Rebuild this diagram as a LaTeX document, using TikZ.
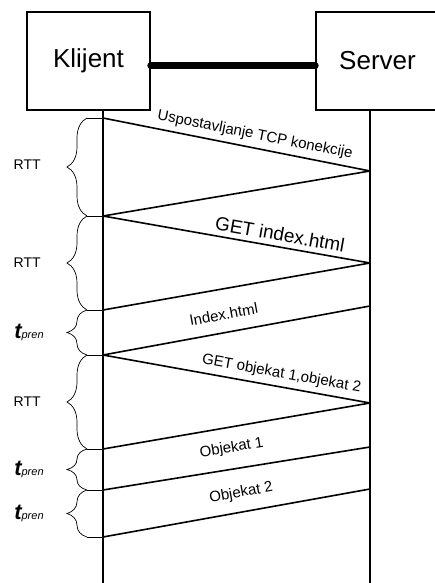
\documentclass[tikz,border=0pt]{standalone}
\usepackage{fontspec}
\setmainfont{Liberation Sans}
\usetikzlibrary{decorations.pathreplacing}

\tikzset{
  stranka/.style={draw, line width=1.6pt, minimum width=123pt, minimum height=98pt, inner sep=0pt, font=\fontsize{26}{30}\selectfont},
  zivot/.style={line width=1.6pt},
  poruka/.style={line width=1.6pt},
  zagrada/.style={decorate, decoration={brace, amplitude=20pt}, line width=0.7pt},
  opis/.style={font=\fontsize{15}{18}\selectfont, sloped, inner sep=1pt},
  rtt/.style={left=46pt, inner sep=0pt, font=\fontsize{14}{16}\selectfont},
  tpr/.style={left=43pt, inner sep=0pt},
}
\newcommand{\tpren}{{\fontsize{22}{24}\selectfont\bfseries\itshape t}{\fontsize{11}{12}\selectfont\itshape pren}}

\begin{document}
\begin{tikzpicture}[x=1pt, y=-1pt]
    \useasboundingbox (0,0) rectangle (435,583);
    \node[stranka] (klijent) at (88.5,61) {Klijent};
    \node[stranka] (server) at (377.5,61) {Server};
    \draw[line width=7pt, line cap=round] ([yshift=-5pt]klijent.east) -- ([yshift=-5pt]server.west);

    \coordinate (kv) at (103,110);
    \coordinate (kd) at (103,583);
    \coordinate (sv) at (370,110);
    \coordinate (sd) at (370,583);

    \coordinate (k0) at (103,118);
    \coordinate (k1) at (103,216);
    \coordinate (k2) at (103,310);
    \coordinate (k3) at (103,355);
    \coordinate (k4) at (103,449);
    \coordinate (k5) at (103,490);
    \coordinate (k6) at (103,537);
    \coordinate (s0) at (370,171);
    \coordinate (s1) at (370,263);
    \coordinate (s2) at (370,306);
    \coordinate (s3) at (370,403);
    \coordinate (s4) at (370,447);
    \coordinate (s5) at (370,489);

    \draw[zagrada] ([xshift=-16pt]k1) -- ([xshift=-16pt]k0) node[midway, rtt, yshift=2pt] {RTT};
    \draw[zagrada] ([xshift=-16pt]k2) -- ([xshift=-16pt]k1) node[midway, rtt] {RTT};
    \draw[zagrada] ([xshift=-16pt]k3) -- ([xshift=-16pt]k2) node[midway, tpr] {\tpren};
    \draw[zagrada] ([xshift=-16pt]k4) -- ([xshift=-16pt]k3) node[midway, rtt] {RTT};
    \draw[zagrada] ([xshift=-16pt]k5) -- ([xshift=-16pt]k4) node[midway, tpr] {\tpren};
    \draw[zagrada] ([xshift=-16pt]k6) -- ([xshift=-16pt]k5) node[midway, tpr] {\tpren};
    \foreach \k in {k0,k1,k2,k3,k4,k5,k6}
        \draw[line width=0.7pt] (\k) -- ([xshift=-16pt]\k);

    \draw[zivot] (kv) -- (kd);
    \draw[zivot] (sv) -- (sd);

    \draw[poruka] (k0) -- (s0) node[opis, pos=0.56, above=4pt] {Uspostavljanje TCP konekcije};
    \draw[poruka] (s0) -- (k1);
    \draw[poruka] (k1) -- (s1) node[opis, pos=0.655, above=4pt, font=\fontsize{19}{22}\selectfont] {GET index.html};
    \draw[poruka] (s1) -- (k2);
    \draw[poruka] (s2) -- (k3) node[opis, pos=0.536, above=11pt] {Index.html};
    \draw[poruka] (k3) -- (s3) node[opis, pos=0.66, above=4pt] {GET objekat 1,objekat 2};
    \draw[poruka] (s3) -- (k4);
    \draw[poruka] (s4) -- (k5) node[opis, pos=0.506, above=12pt] {Objekat 1};
    \draw[poruka] (s5) -- (k6) node[opis, pos=0.47, above=10pt] {Objekat 2};
\end{tikzpicture}
\end{document}
